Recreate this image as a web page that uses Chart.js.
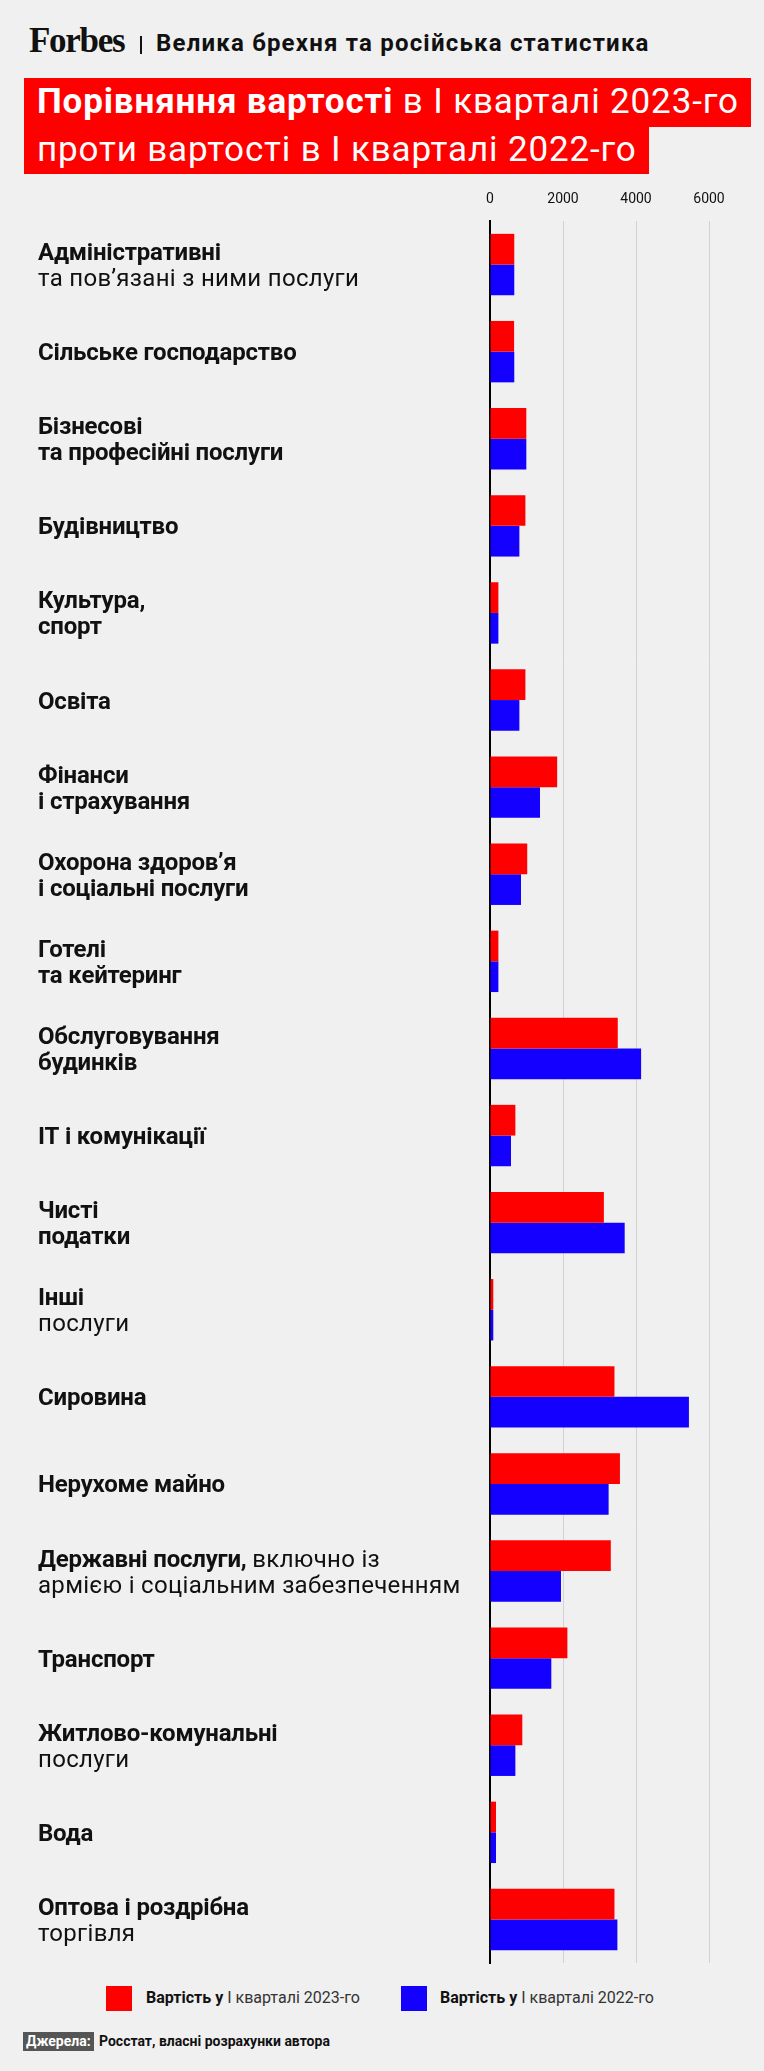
<!DOCTYPE html>
<html>
<head>
<meta charset="utf-8">
<script src="https://cdn.jsdelivr.net/npm/chart.js@4"></script>
<style>
  html, body { margin: 0; padding: 0; background: #f0f0f0; }
  body { width: 764px; height: 2071px; position: relative; overflow: hidden; font-family: Roboto, sans-serif; color: #111; }
  .abs { position: absolute; white-space: nowrap; }
  #logo { left: 29px; top: 21px; font-family: "Liberation Serif", serif; font-weight: bold; font-size: 35px; letter-spacing: -1.3px; color: #111; }
  #sep { left: 140px; top: 36px; width: 2px; height: 18px; background: #111; }
  #kicker { left: 156px; top: 29px; font-weight: bold; font-size: 24px; letter-spacing: 1.2px; color: #111; }
  .tbox { left: 24px; background: #ff0000; color: #fff; font-size: 35px; letter-spacing: 0.85px; padding: 0 12px 0 13px; box-sizing: border-box; line-height: 48px; }
  #t1 { top: 78px; height: 49px; }
  #t2 { top: 127px; height: 47px; line-height: 46px; }
  #chartWrap { left: 0; top: 180px; width: 764px; height: 1790px; }
  .sw { width: 26px; height: 25px; top: 1986px; }
  .lg { top: 1988px; font-size: 16px; color: #333; }
  .lg b { color: #111; }
  #srcTag { left: 23px; top: 2032px; height: 19px; line-height: 19px; padding: 0 3px; background: #555; color: #fff; font-weight: bold; font-size: 14px; }
  #src { left: 99px; top: 2032px; line-height: 19px; font-weight: bold; font-size: 14px; color: #111; }
</style>
</head>
<body>
<div class="abs" id="logo">Forbes</div>
<div class="abs" id="sep"></div>
<div class="abs" id="kicker">Велика брехня та російська статистика</div>
<div class="abs tbox" id="t1"><b>Порівняння вартості</b> в І кварталі 2023-го</div>
<div class="abs tbox" id="t2">проти вартості в І кварталі 2022-го</div>

<div class="abs" id="chartWrap"><canvas id="myChart"></canvas></div>

<div class="abs sw" style="left:106px;background:#ff0000"></div>
<div class="abs lg" style="left:146px"><b>Вартість у</b> І кварталі 2023-го</div>
<div class="abs sw" style="left:401px;background:#1400ff"></div>
<div class="abs lg" style="left:440px"><b>Вартість у</b> І кварталі 2022-го</div>

<div class="abs" id="srcTag">Джерела:</div>
<div class="abs" id="src">Росстат, власні розрахунки автора</div>

<script>
// text before "|" is bold, after it regular; lines without "|" are all bold
var categories = [
    ["Адміністративні", "|та пов’язані з ними послуги"],
    ["Сільське господарство"],
    ["Бізнесові", "та професійні послуги"],
    ["Будівництво"],
    ["Культура,", "спорт"],
    ["Освіта"],
    ["Фінанси", "і страхування"],
    ["Охорона здоров’я", "і соціальні послуги"],
    ["Готелі", "та кейтеринг"],
    ["Обслуговування", "будинків"],
    ["ІТ і комунікації"],
    ["Чисті", "податки"],
    ["Інші", "|послуги"],
    ["Сировина"],
    ["Нерухоме майно"],
    ["Державні послуги, |включно із", "|армією і соціальним забезпеченням"],
    ["Транспорт"],
    ["Житлово-комунальні", "|послуги"],
    ["Вода"],
    ["Оптова і роздрібна", "|торгівля"]
];
var q1_2023 = [665, 660, 995, 970, 230, 970, 1840, 1020, 230, 3500, 695, 3120, 90, 3410, 3560, 3310, 2120, 885, 165, 3410];
var q1_2022 = [665, 665, 995, 805, 230, 805, 1370, 850, 230, 4140, 575, 3690, 90, 5450, 3250, 1945, 1680, 695, 165, 3490];
var xTicks = [0, 2000, 4000, 6000];

Chart.defaults.font.family = "Roboto";

var categoryLabels = {
    id: "categoryLabels",
    afterDraw: function (chart) {
        var ctx = chart.ctx;
        var yScale = chart.scales.y;
        ctx.save();
        ctx.fillStyle = "#111";
        ctx.textBaseline = "alphabetic";
        ctx.textAlign = "left";
        categories.forEach(function (lines, i) {
            var center = yScale.getPixelForValue(i);
            lines.forEach(function (line, k) {
                var y = center + 8.5 + (k - (lines.length - 1) / 2) * 26;
                var parts = line.split("|");
                var x = 38;
                ctx.font = "bold 24px Roboto";
                ctx.letterSpacing = "-0.2px";
                ctx.fillText(parts[0], x, y);
                x += ctx.measureText(parts[0]).width;
                if (parts.length > 1) {
                    ctx.font = "24px Roboto";
                    ctx.letterSpacing = "0.3px";
                    ctx.fillText(parts[1], x, y);
                }
            });
        });
        ctx.restore();
    }
};

new Chart("myChart", {
    type: "bar",
    data: {
        labels: categories.map(function (l) { return l.join(" ").replace(/\|/g, ""); }),
        datasets: [
            { label: "Вартість у І кварталі 2023-го", data: q1_2023, backgroundColor: "#ff0000" },
            { label: "Вартість у І кварталі 2022-го", data: q1_2022, backgroundColor: "#1400ff" }
        ]
    },
    options: {
        indexAxis: "y",
        responsive: true,
        maintainAspectRatio: false,
        animation: false,
        layout: { padding: { left: 490, right: 55, top: 0, bottom: 7 } },
        datasets: { bar: { categoryPercentage: 0.705, barPercentage: 1 } },
        plugins: { legend: { display: false }, tooltip: { enabled: false } },
        scales: {
            x: {
                type: "linear",
                position: "top",
                min: 0,
                max: 6000,
                afterBuildTicks: function (s) { s.ticks = xTicks.map(function (v) { return { value: v }; }); },
                afterFit: function (s) { s.height = 41; },
                ticks: { color: "#111", font: { size: 14 }, padding: 13, callback: function (v) { return String(v); } },
                grid: {
                    drawTicks: false,
                    color: function (c) { return c.tick && c.tick.value === 0 ? "rgba(0,0,0,0)" : "#d2d2d2"; },
                    lineWidth: 1
                },
                border: { display: false }
            },
            y: {
                z: 1,
                ticks: { display: false },
                grid: { display: false, drawTicks: false },
                afterFit: function (s) { s.width = 0; },
                border: { display: true, color: "#000", width: 2 }
            }
        }
    },
    plugins: [categoryLabels]
});
</script>
</body>
</html>
